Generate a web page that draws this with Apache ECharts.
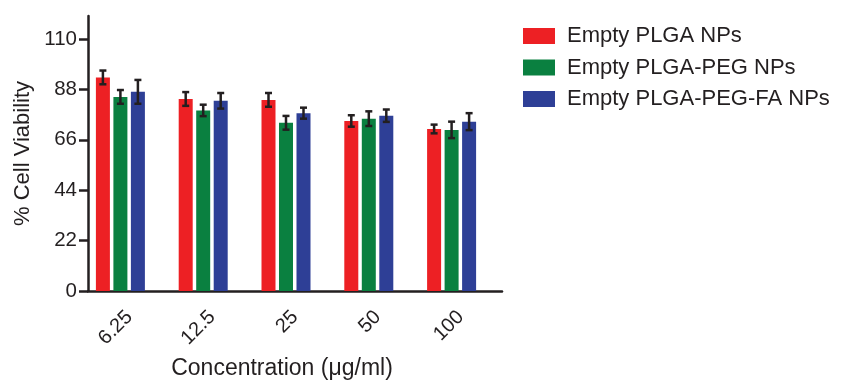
<!DOCTYPE html>
<html>
<head>
<meta charset="utf-8">
<script src="https://cdn.jsdelivr.net/npm/echarts@6/dist/echarts.min.js"></script>
<style>
  html, body { margin: 0; padding: 0; background: #fff; }
  #chart { width: 845px; height: 380px; }
</style>
</head>
<body>
<div id="chart"></div>
<script>
// Concentration groups (µg/ml)
const categories = ['6.25', '12.5', '25', '50', '100'];

// Mean % cell viability and SD per formulation
const plgaMean = [93.2, 83.8, 83.4, 74.2, 70.7];
const plgaSd   = [3.0, 3.0, 3.0, 2.5, 1.9];
const pegMean  = [84.7, 78.8, 73.4, 75.2, 70.3];
const pegSd    = [3.0, 2.5, 3.0, 3.2, 3.6];
const faMean   = [86.9, 83.0, 77.6, 76.5, 73.9];
const faSd     = [5.2, 3.4, 2.4, 2.7, 3.7];

const seriesNames = ['Empty PLGA NPs', 'Empty PLGA-PEG NPs', 'Empty PLGA-PEG-FA NPs'];
const yTicks = [0, 22, 44, 66, 88, 110];

const FONT = '"Liberation Sans", Arial, Helvetica, sans-serif';
const INK = '#231f20';
const COLORS = ['#ed2024', '#0a8040', '#2e3f96'];
const BAR_W = 14;
const BAR_GAP = 0.25;

const chart = echarts.init(document.getElementById('chart'), null, { renderer: 'canvas' });

function errorSeries(idx, means, sds) {
  return {
    type: 'custom',
    xAxisIndex: 1,
    yAxisIndex: 1,
    z: 10,
    silent: true,
    encode: { x: 0, y: 1 },
    data: means.map((m, i) => [i, m, sds[i]]),
    renderItem(params, api) {
      const ci = api.value(0);
      const m = api.value(1);
      const s = api.value(2);
      const hi = api.coord([ci, m + s]);
      const lo = api.coord([ci, m - s]);
      const x = hi[0] + (idx - 1) * BAR_W * (1 + BAR_GAP);
      const cap = 3.5;
      const st = { stroke: INK, lineWidth: 2.5 };
      return {
        type: 'group',
        children: [
          { type: 'line', shape: { x1: x, y1: hi[1], x2: x, y2: lo[1] }, style: st },
          { type: 'line', shape: { x1: x - cap, y1: hi[1], x2: x + cap, y2: hi[1] }, style: st },
          { type: 'line', shape: { x1: x - cap, y1: lo[1], x2: x + cap, y2: lo[1] }, style: st }
        ]
      };
    }
  };
}

function barSeries(idx, means) {
  return {
    name: seriesNames[idx],
    type: 'bar',
    xAxisIndex: 1,
    yAxisIndex: 1,
    barWidth: BAR_W,
    barGap: (BAR_GAP * 100) + '%',
    itemStyle: { color: COLORS[idx] },
    data: means
  };
}

const option = {
  animation: false,
  backgroundColor: '#fff',
  textStyle: { fontFamily: FONT, color: INK },
  grid: [
    // axes frame
    { left: 88, width: 414, top: 16, bottom: 89, containLabel: false, outerBoundsMode: 'none' },
    // bars sit slightly left of each tick
    { left: 79, width: 414, top: 16, bottom: 89, containLabel: false, outerBoundsMode: 'none' }
  ],
  legend: {
    orient: 'vertical',
    left: 518,
    top: 20,
    itemWidth: 32,
    itemHeight: 16,
    itemGap: 9.5,
    icon: 'rect',
    data: seriesNames,
    textStyle: { fontFamily: FONT, fontSize: 22, color: INK, padding: [0, 0, 0, 7] }
  },
  xAxis: [
    {
      type: 'category',
      gridIndex: 0,
      data: categories,
      boundaryGap: true,
      axisLine: { lineStyle: { color: INK, width: 2.5 } },
      axisTick: { alignWithLabel: true, length: 8, lineStyle: { color: INK, width: 2.5 } },
      axisLabel: { rotate: 45, margin: 23, fontSize: 20, color: INK, fontFamily: FONT },
      name: 'Concentration (\u03bcg/ml)',
      nameLocation: 'middle',
      nameGap: 66,
      nameTextStyle: { fontSize: 23, color: INK, fontFamily: FONT, padding: [0, 26, 0, 0] }
    },
    {
      type: 'category',
      gridIndex: 1,
      data: categories,
      show: false
    }
  ],
  yAxis: [
    {
      type: 'value',
      gridIndex: 0,
      min: 0,
      max: 120,
      interval: 22,
      splitLine: { show: false },
      axisLine: { show: true, lineStyle: { color: INK, width: 2.5 } },
      axisTick: { show: true, length: 9, customValues: yTicks, lineStyle: { color: INK, width: 2.5 } },
      axisLabel: { margin: 11, fontSize: 20.5, color: INK, fontFamily: FONT, customValues: yTicks },
      name: '% Cell Viability',
      nameLocation: 'middle',
      nameGap: 54,
      nameTextStyle: { fontSize: 22, color: INK, fontFamily: FONT }
    },
    {
      type: 'value',
      gridIndex: 1,
      min: 0,
      max: 120,
      show: false,
      splitLine: { show: false }
    }
  ],
  series: [
    barSeries(0, plgaMean),
    barSeries(1, pegMean),
    barSeries(2, faMean),
    errorSeries(0, plgaMean, plgaSd),
    errorSeries(1, pegMean, pegSd),
    errorSeries(2, faMean, faSd)
  ]
};

chart.setOption(option);
</script>
</body>
</html>
